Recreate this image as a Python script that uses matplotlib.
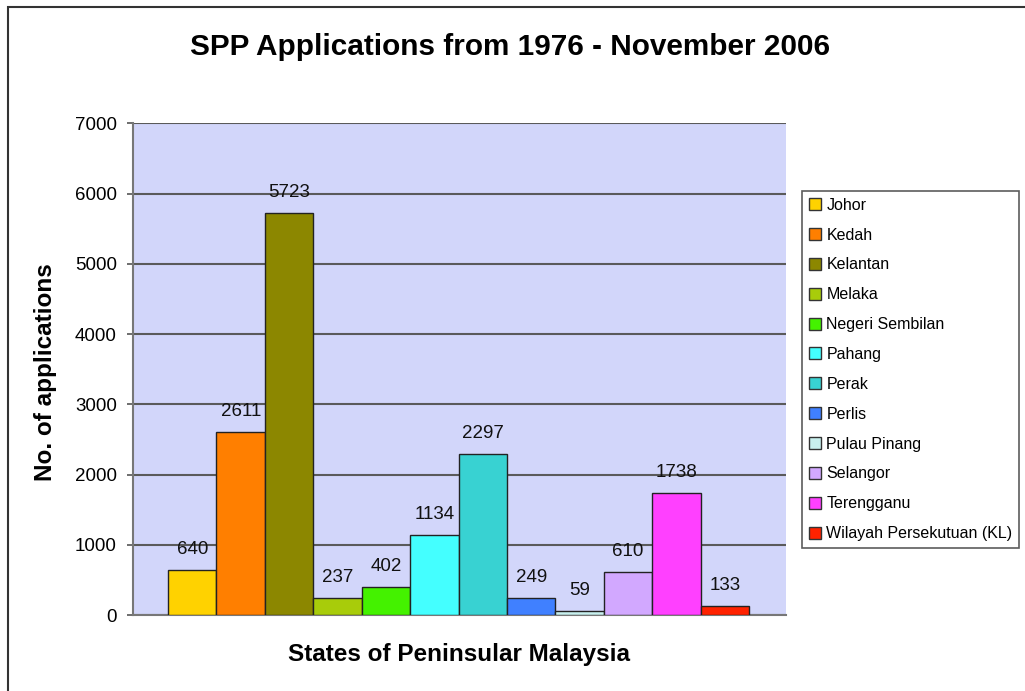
import matplotlib.pyplot as plt
from matplotlib.lines import Line2D
from matplotlib.patches import Rectangle

plt.rcParams['font.family'] = ['Liberation Sans', 'DejaVu Sans']

# data
states = ['Johor', 'Kedah', 'Kelantan', 'Melaka', 'Negeri Sembilan', 'Pahang',
          'Perak', 'Perlis', 'Pulau Pinang', 'Selangor', 'Terengganu',
          'Wilayah Persekutuan (KL)']
applications = [640, 2611, 5723, 237, 402, 1134, 2297, 249, 59, 610, 1738, 133]
colors = ['#FFD200', '#FF7F00', '#8C8700', '#A8CC0A', '#44F200', '#44FFFF',
          '#38D2D2', '#4080FF', '#C8F0EE', '#D2A8FF', '#FF40FF', '#FF2200']
yticks = [0, 1000, 2000, 3000, 4000, 5000, 6000, 7000]

W, H = 1025, 691
fig = plt.figure(figsize=(W / 100, H / 100), dpi=100)
ax = fig.add_axes([132.7 / W, 1 - 615 / H, (786 - 132.7) / W, (615 - 123.3) / H])
ax.set_facecolor('#D2D6FA')

x = list(range(len(states)))
ax.bar(x, applications, width=1.0, color=colors, edgecolor='#222222', linewidth=1.0, zorder=3)

# value labels above bars
for xi, v in zip(x, applications):
    ax.annotate(str(v), (xi, v), xytext=(0, 11.5), textcoords='offset points',
                ha='center', va='baseline', fontsize=13.5, color='#111111', zorder=4)

ax.set_xlim(-1.23, 12.26)
ax.set_ylim(0, 7000)
ax.set_yticks(yticks)
ax.set_xticks([])
ax.yaxis.grid(True, color='#5a5a5a', linewidth=1.5, zorder=1)
ax.tick_params(axis='y', labelsize=13.5, length=4, width=1.2, color='#555555', pad=7.5)

for side in ['top', 'right']:
    ax.spines[side].set_visible(False)
ax.spines['left'].set_color('#777777')
ax.spines['left'].set_linewidth(1.5)
ax.spines['bottom'].set_color('#777777')
ax.spines['bottom'].set_linewidth(1.5)

fig.text(46 / W, 1 - 372 / H, 'No. of applications', rotation=90, ha='center', va='center',
         fontsize=17.5, fontweight='bold')
fig.text(459 / W, 1 - 655 / H, 'States of Peninsular Malaysia', ha='center', va='center',
         fontsize=17.5, fontweight='bold')
fig.text(510 / W, 1 - 47 / H, 'SPP Applications from 1976 - November 2006',
         ha='center', va='center', fontsize=21.4, fontweight='bold')

# legend
handles = [Line2D([0], [0], marker='s', color='none', markerfacecolor=c,
                  markeredgecolor='#333333', markersize=8, label=s)
           for s, c in zip(states, colors)]
leg = fig.legend(handles=handles, loc='upper left', bbox_to_anchor=(802 / W, 1 - 191 / H),
                 frameon=True, fancybox=False, fontsize=11.5, handlelength=0.8,
                 handletextpad=0.3, labelspacing=0.93, borderpad=0.42, borderaxespad=0)
leg.get_frame().set_edgecolor('#333333')
leg.get_frame().set_linewidth(1.2)

# outer border of the chart
fig.patches.append(Rectangle((8 / W, -0.1), 1.2, 1.1 - 7 / H, transform=fig.transFigure,
                             fill=False, edgecolor='#333333', linewidth=1.5))

fig.savefig('out.png', dpi=100)
